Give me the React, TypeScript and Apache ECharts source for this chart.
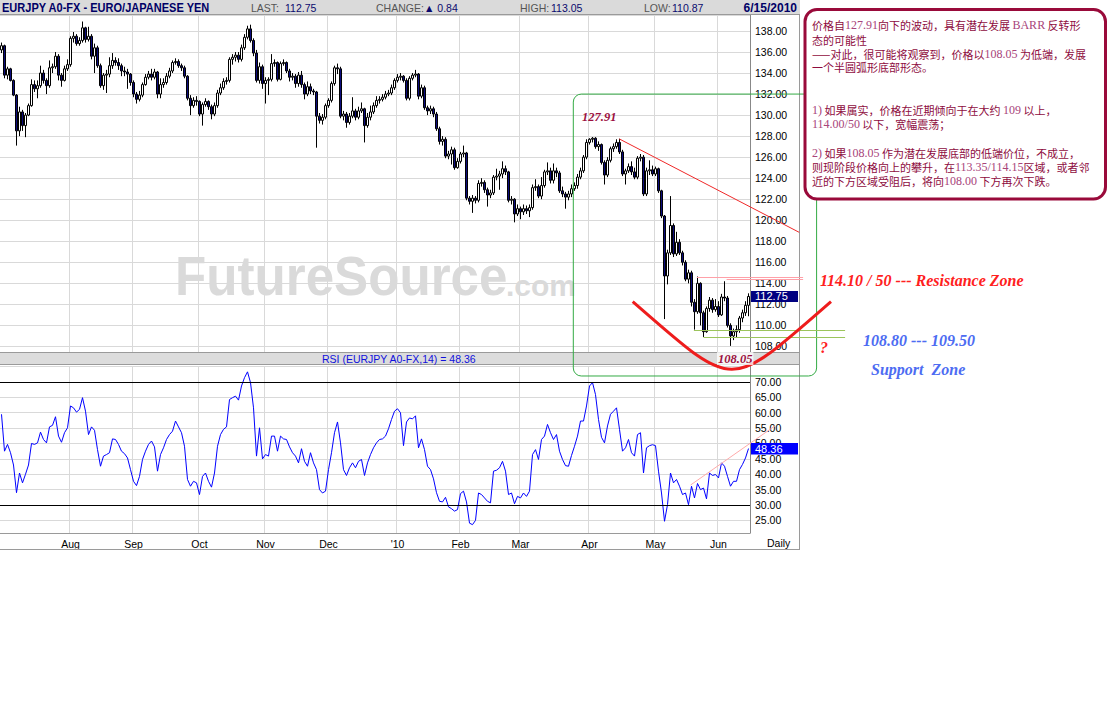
import React, { useEffect, useRef } from "react";
import * as echarts from "echarts";

// ---------- DATA ----------
const TITLE = "EURJPY A0-FX - EURO/JAPANESE YEN";
const headerStats = [
  { label: "LAST:", value: "112.75" },
  { label: "CHANGE:", value: "\u25B2 0.84" },
  { label: "HIGH:", value: "113.05" },
  { label: "LOW:", value: "110.87" },
];
const headerDate = "6/15/2010";
const rsiTitle = "RSI (EURJPY A0-FX,14) = 48.36";
const lastClose = 112.75;
const lastRsi = 48.36;
const monthNames = ["Jan", "Feb", "Mar", "Apr", "May", "Jun", "Jul", "Aug", "Sep", "Oct", "Nov", "Dec"];

// candles: [open, close, low, high]
const jul09 = [
  [136.2, 136.6, 135.9, 136.9], [136.6, 133.8, 133.5, 136.7], [133.8, 134.4, 133.4, 134.6], [134.4, 133.3, 133.2, 134.5],
  [133.3, 131.9, 131.8, 133.4], [131.9, 128.5, 127.1, 132.0], [128.5, 130.3, 128.0, 130.8], [130.3, 129.0, 128.5, 130.5],
  [129.0, 130.0, 127.9, 130.2], [130.0, 130.9, 129.9, 131.1], [130.9, 132.9, 130.8, 133.4], [132.9, 132.5, 132.2, 133.3],
  [132.5, 132.8, 131.6, 133.3], [132.8, 134.0, 132.6, 134.7], [134.0, 133.3, 133.0, 134.3], [133.3, 132.8, 132.0, 133.5],
  [132.8, 134.5, 132.6, 135.2], [134.5, 134.6, 134.0, 134.9], [134.6, 135.6, 134.4, 136.0], [135.6, 133.8, 133.3, 135.8],
  [133.8, 133.3, 132.7, 134.0], [133.3, 134.4, 133.2, 134.7], [134.4, 134.8, 134.2, 135.3],
];
const aug09 = [
  [134.8, 137.3, 134.6, 137.5], [137.3, 137.5, 136.9, 137.9], [137.5, 136.8, 136.6, 137.7], [136.8, 137.1, 136.6, 137.4],
  [137.1, 138.3, 136.9, 138.9], [138.3, 137.2, 136.9, 138.4], [137.2, 137.5, 137.0, 138.4], [137.5, 135.6, 135.3, 137.7],
  [135.6, 136.4, 134.0, 136.8], [136.4, 134.7, 134.5, 136.6], [134.7, 132.8, 132.6, 134.9], [132.8, 133.8, 132.4, 134.0],
  [133.8, 133.9, 132.1, 134.3], [133.9, 134.7, 133.6, 135.5], [134.7, 135.2, 134.4, 135.9], [135.2, 135.0, 134.7, 135.5],
  [135.0, 134.7, 134.3, 135.4], [134.7, 134.2, 133.7, 134.9], [134.2, 134.1, 133.7, 134.6], [134.1, 133.9, 132.5, 134.4],
  [133.9, 133.1, 132.8, 134.0],
];
const sep09 = [
  [133.1, 132.0, 131.7, 133.3], [132.0, 131.5, 131.1, 132.2], [131.5, 131.9, 131.3, 132.3], [131.9, 132.9, 131.7, 133.1],
  [132.9, 133.6, 132.8, 133.9], [133.6, 133.9, 133.4, 134.2], [133.9, 133.6, 133.3, 134.4], [133.6, 134.1, 133.4, 134.4],
  [134.1, 132.0, 131.6, 134.2], [132.0, 132.9, 131.6, 133.5], [132.9, 133.1, 132.6, 133.5], [133.1, 133.7, 132.9, 134.0],
  [133.7, 134.2, 133.5, 134.5], [134.2, 135.0, 134.0, 135.2], [135.0, 135.1, 134.8, 135.4], [135.1, 134.7, 134.5, 135.3],
  [134.7, 134.5, 134.2, 134.9], [134.5, 133.7, 133.5, 134.7], [133.7, 131.6, 131.4, 133.8], [131.6, 130.9, 130.0, 131.9],
  [130.9, 131.4, 130.7, 131.7], [131.4, 131.3, 130.9, 131.8],
];
const oct09 = [
  [131.3, 130.1, 129.9, 131.4], [130.1, 131.0, 129.0, 131.2], [131.0, 131.3, 130.8, 131.6], [131.3, 130.8, 130.5, 131.4],
  [130.8, 130.1, 129.6, 131.0], [130.1, 130.9, 129.9, 131.2], [130.9, 132.1, 130.7, 132.4], [132.1, 132.6, 131.9, 133.0],
  [132.6, 133.2, 132.4, 133.5], [133.2, 133.3, 132.9, 133.6], [133.3, 135.3, 133.1, 135.5], [135.3, 135.5, 134.8, 135.8],
  [135.5, 135.7, 135.1, 136.0], [135.7, 135.3, 135.0, 136.0], [135.3, 136.4, 135.1, 136.7], [136.4, 137.4, 136.2, 137.7],
  [137.4, 138.2, 137.2, 138.5], [138.2, 137.1, 136.9, 138.6], [137.1, 135.9, 135.6, 137.3], [135.9, 133.3, 133.1, 136.2],
  [133.3, 134.6, 133.0, 135.0], [134.6, 133.0, 132.5, 134.8],
];
const nov09 = [
  [133.0, 133.3, 131.1, 133.6], [133.3, 133.4, 131.9, 133.6], [133.4, 134.9, 133.2, 135.8], [134.9, 135.0, 134.6, 135.3],
  [135.0, 133.4, 133.2, 135.1], [133.4, 134.9, 133.3, 135.1], [134.9, 135.0, 134.7, 135.3], [135.0, 134.2, 134.0, 135.1],
  [134.2, 133.6, 133.2, 134.4], [133.6, 133.7, 133.3, 134.0], [133.7, 133.0, 132.6, 133.9], [133.0, 133.8, 132.7, 134.1],
  [133.8, 132.9, 132.6, 134.2], [132.9, 132.0, 131.5, 133.1], [132.0, 132.7, 131.8, 133.2], [132.7, 132.3, 132.0, 133.0],
  [132.3, 132.2, 131.9, 132.5], [132.2, 129.9, 126.9, 132.3], [129.9, 129.5, 129.2, 130.2], [129.5, 129.8, 129.1, 130.1],
  [129.8, 130.9, 129.6, 131.1],
];
const dec09 = [
  [130.9, 131.4, 130.7, 131.6], [131.4, 133.0, 131.2, 133.2], [133.0, 134.5, 132.8, 134.7], [134.5, 134.4, 133.9, 134.9],
  [134.4, 129.9, 129.7, 134.6], [129.9, 130.1, 129.5, 130.4], [130.1, 129.3, 128.8, 130.3], [129.3, 129.9, 129.1, 130.2],
  [129.9, 130.4, 129.7, 131.7], [130.4, 129.8, 129.5, 130.6], [129.8, 130.4, 129.6, 130.8], [130.4, 130.6, 130.2, 131.2],
  [130.6, 129.0, 127.4, 130.7], [129.0, 129.8, 128.8, 130.2], [129.8, 130.3, 129.5, 130.9], [130.3, 130.9, 130.1, 131.2],
  [130.9, 131.4, 130.7, 131.8], [131.4, 131.5, 131.1, 131.8], [131.5, 131.7, 131.3, 132.0], [131.7, 132.0, 131.5, 132.3],
  [132.0, 132.1, 131.8, 132.4], [132.1, 132.6, 131.9, 132.9], [132.6, 133.3, 132.4, 133.5],
];
const jan10 = [
  [133.3, 133.6, 133.1, 133.9], [133.6, 133.7, 133.3, 134.0], [133.7, 133.3, 133.1, 133.8], [133.3, 131.6, 131.4, 133.5],
  [131.6, 133.5, 131.4, 133.7], [133.5, 133.8, 133.3, 134.0], [133.8, 133.9, 133.6, 134.3], [133.9, 131.8, 131.5, 134.0],
  [131.8, 132.6, 131.6, 132.9], [132.6, 130.7, 130.5, 132.8], [130.7, 130.4, 130.0, 130.9], [130.4, 130.6, 130.1, 130.9],
  [130.6, 130.1, 129.8, 130.8], [130.1, 128.7, 128.5, 130.3], [128.7, 127.5, 127.2, 128.9], [127.5, 127.7, 127.1, 128.0],
  [127.7, 126.1, 125.9, 127.9], [126.1, 126.3, 125.8, 126.6], [126.3, 126.7, 125.3, 127.0], [126.7, 125.0, 124.8, 126.9],
  [125.0, 125.6, 124.9, 125.9],
];
const feb10 = [
  [125.6, 126.3, 125.4, 126.5], [126.3, 126.4, 126.0, 127.1], [126.4, 122.1, 121.9, 126.5], [122.1, 121.8, 121.5, 122.3],
  [121.8, 122.1, 120.7, 122.4], [122.1, 121.9, 121.6, 122.3], [121.9, 123.5, 121.7, 123.8], [123.5, 123.6, 123.2, 124.0],
  [123.6, 122.9, 122.6, 123.8], [122.9, 122.4, 121.3, 123.1], [122.4, 122.6, 122.1, 122.9], [122.6, 124.1, 122.4, 124.3],
  [124.1, 124.2, 123.8, 124.9], [124.2, 124.4, 122.9, 124.7], [124.4, 124.9, 124.0, 125.6], [124.9, 124.6, 124.3, 125.2],
  [124.6, 121.9, 121.7, 124.7], [121.9, 122.0, 121.5, 122.3], [122.0, 120.6, 119.8, 122.1], [120.6, 121.1, 120.4, 121.5],
];
const mar10 = [
  [121.1, 120.8, 120.1, 121.3], [120.8, 121.1, 120.5, 121.5], [121.1, 120.9, 120.6, 121.4], [120.9, 121.2, 120.3, 121.5],
  [121.2, 123.1, 121.0, 123.4], [123.1, 123.2, 122.8, 123.9], [123.2, 122.3, 122.1, 123.4], [122.3, 123.3, 122.0, 124.1],
  [123.3, 124.6, 123.1, 124.8], [124.6, 124.7, 124.3, 125.5], [124.7, 123.8, 123.5, 125.0], [123.8, 124.7, 123.5, 125.4],
  [124.7, 124.5, 124.1, 125.0], [124.5, 122.8, 122.6, 124.7], [122.8, 122.5, 122.2, 123.2], [122.5, 122.2, 121.1, 122.7],
  [122.2, 122.5, 121.9, 122.8], [122.5, 123.0, 122.2, 123.4], [123.0, 123.3, 122.8, 123.6], [123.3, 124.1, 123.0, 124.4],
  [124.1, 124.7, 123.9, 125.0], [124.7, 126.0, 124.5, 126.2], [126.0, 127.4, 125.8, 127.7],
];
const apr10 = [
  [127.4, 127.7, 127.2, 127.8], [127.7, 127.8, 127.4, 127.91], [127.8, 127.0, 126.8, 127.9], [127.0, 127.2, 126.6, 127.5],
  [127.2, 125.5, 125.3, 127.3], [125.5, 124.3, 123.4, 125.7], [124.3, 125.7, 124.1, 126.0], [125.7, 126.8, 125.5, 127.0],
  [126.8, 127.0, 126.5, 127.3], [127.0, 127.4, 126.8, 127.7], [127.4, 126.5, 126.3, 127.75], [126.5, 124.4, 124.2, 126.7],
  [124.4, 124.7, 123.4, 124.9], [124.7, 125.1, 124.5, 125.4], [125.1, 124.6, 124.3, 125.6], [124.6, 124.1, 123.9, 125.0],
  [124.1, 125.9, 123.9, 126.1], [125.9, 126.0, 125.6, 126.3], [126.0, 122.5, 122.3, 126.2], [122.5, 124.7, 122.3, 125.0],
  [124.7, 124.8, 124.3, 125.7], [124.8, 124.4, 124.2, 125.2],
];
const may10 = [
  [124.4, 124.9, 124.2, 125.1], [124.9, 122.8, 122.6, 125.0], [122.8, 120.4, 120.2, 122.9], [120.4, 114.7, 110.6, 120.5],
  [114.7, 116.9, 113.9, 117.2], [116.9, 119.5, 116.7, 122.3], [119.5, 116.8, 116.5, 119.7], [116.8, 117.9, 116.6, 118.9],
  [117.9, 116.9, 116.7, 118.2], [116.9, 116.0, 115.7, 117.1], [116.0, 114.4, 114.2, 116.2], [114.4, 115.0, 114.0, 115.3],
  [115.0, 112.2, 111.8, 115.2], [112.2, 111.3, 109.6, 112.5], [111.3, 114.0, 111.1, 114.65], [114.0, 111.2, 110.0, 114.1],
  [111.2, 109.4, 108.9, 111.4], [109.4, 111.6, 109.3, 111.8], [111.6, 112.4, 111.3, 112.7], [112.4, 111.5, 111.2, 112.6],
  [111.5, 111.8, 111.3, 112.5],
];
const jun10 = [
  [111.8, 111.0, 110.8, 112.3], [111.0, 112.7, 110.9, 113.0], [112.7, 112.6, 112.3, 114.2], [112.6, 110.0, 109.8, 112.8],
  [110.0, 109.0, 108.05, 110.2], [109.0, 109.4, 108.6, 109.7], [109.4, 109.6, 108.8, 110.0], [109.6, 110.7, 109.3, 110.9],
  [110.7, 111.2, 110.3, 111.5], [111.2, 111.91, 110.9, 112.3], [111.91, 112.75, 110.87, 113.05],
];

// RSI(14) values
const rsiJul09 = [59.5, 47.5, 49.7, 47, 43, 34, 40.4, 37.2, 40, 43, 50, 49.7, 50.2, 53.7, 51.3, 50.2, 55.4, 55.9, 58.7, 52.4, 50.4, 53.5, 55.1];
const rsiAug09 = [62.2, 61.6, 60.2, 61.1, 64.9, 60.5, 52.9, 55.4, 54.3, 48, 42.6, 45.9, 46.4, 47, 51.5, 51.3, 49.7, 47.5, 46.7, 45.3, 41.5];
const rsiSep09 = [37.7, 36.3, 39.3, 44.8, 47.5, 49.7, 50.8, 48.9, 41, 46.4, 48.6, 51.3, 52.9, 54, 57.3, 55.4, 53.5, 49.1, 38.3, 36.1, 37.7, 37.2];
const rsiOct09 = [33.4, 39.3, 40.4, 37.7, 35.8, 40.4, 49.1, 52.9, 54.6, 55.4, 64.3, 64.9, 65.4, 64.1, 68.7, 71.4, 73.3, 69.8, 61.6, 45.9, 55.1, 45];
const rsiNov09 = [46.4, 45.9, 52.4, 52.4, 47.5, 52.4, 51.5, 51.3, 48.9, 47, 45.9, 43.7, 48.3, 44.2, 42.6, 47, 43.7, 41.5, 35, 33.9, 34.5];
const rsiDec09 = [41.5, 47, 53.5, 57, 50.2, 41.5, 39.6, 42.1, 43.7, 42.1, 44.2, 44.8, 39.6, 43.7, 46.4, 48.6, 50.2, 51.3, 51.5, 52.4, 54.8, 57.8, 60.5];
const rsiJan10 = [61.3, 60, 49.3, 57, 58.3, 58, 59, 48.6, 51.5, 48, 42.6, 41.5, 38.5, 34, 31.2, 31, 32.5, 29.4, 28.8, 28, 28.5];
const rsiFeb10 = [33.7, 34.5, 31, 24.1, 23.6, 25, 33.9, 33.4, 32.3, 31.2, 30.7, 41, 41.3, 42.1, 44.2, 41, 33.4, 33.9, 30.4, 32.8];
const rsiMar10 = [32.3, 33.9, 32.8, 34.5, 46.4, 48, 44.8, 51.3, 52.4, 56.2, 53.5, 51.3, 52.9, 47.5, 44.8, 42.8, 42.6, 46.1, 49.1, 52.4, 57.3, 57.3, 62.2];
const rsiApr10 = [68.7, 69.8, 65.9, 57.8, 52, 50.2, 55.7, 59.5, 60.5, 61.6, 54.6, 47.5, 48.6, 51.3, 47, 45.9, 52.9, 53.5, 40.4, 48.6, 49.3, 49.6];
const rsiMay10 = [49.3, 41, 33.9, 24.7, 30.1, 40.4, 37.2, 38.3, 36.1, 33.4, 33.9, 30.1, 36.1, 32.3, 37.0, 35, 35.5, 32, 40.4, 39.6, 39.9];
const rsiJun10 = [38.8, 43.7, 42.6, 39.3, 36.1, 37.7, 37.7, 41.5, 43.2, 45.3, 48.36];

// annotation anchors in data units: [category index, value]
const trendLine = [[205.9, 127.74], [265.9, 118.85]];
const resistanceLines = [
  { from: 231.8, to: 267.2, value: 114.65 },
  { from: 241.7, to: 267.2, value: 114.4 },
];
const supportLines = [
  { from: 230.8, to: 281.2, value: 109.54 },
  { from: 234.0, to: 281.2, value: 108.87 },
];
const arcCurve = { start: [210.4, 112.27], cp1: [245.1, 103.67], cp2: [241.8, 103.67], end: [276.5, 112.27] };
const greenBox = { fromIndex: 190.6, toIndex: 271.7, topPrice: 132.0, bottomRsi: 71.95 };
const rsiTrend = [[229.7, 36.5], [257.8, 55.7]];

const noteLines = [
  "{c|价格自}{n|127.91}{c|向下的波动，具有潜在发展 }{n|BARR}{c| 反转形}",
  "{c|态的可能性}",
  "{c|——对此，很可能将观察到，价格以}{n|108.05}{c| 为低端，发展}",
  "{c|一个半圆弧形底部形态。}",
  "{n|1)}{c| 如果属实，价格在近期倾向于在大约 }{n|109}{c| 以上，}",
  "{n|114.00/50}{c| 以下，宽幅震荡；}",
  "{n|2)}{c| 如果}{n|108.05}{c| 作为潜在发展底部的低端价位，不成立，}",
  "{c|则现阶段价格向上的攀升，在}{n|113.35/114.15}{c|区域，或者邻}",
  "{c|近的下方区域受阻后，将向}{n|108.00}{c| 下方再次下跌。}",
];
const noteLineY = [25, 39.5, 53.5, 67, 110, 124, 153, 167, 181];

// ---------- helpers ----------
const SANS = "'Liberation Sans', Arial, 'DejaVu Sans', sans-serif";
const SERIF = "'Liberation Serif', 'Times New Roman', serif";
const CJK = "'Noto Sans CJK SC', sans-serif";

function tradingDays(): string[] {
  const out: string[] = [];
  const d = new Date(Date.UTC(2009, 6, 1));
  const end = Date.UTC(2010, 5, 15);
  while (d.getTime() <= end) {
    const wd = d.getUTCDay();
    if (wd !== 0 && wd !== 6) out.push(d.toISOString().slice(0, 10));
    d.setUTCDate(d.getUTCDate() + 1);
  }
  return out;
}

const dates = tradingDays();
const candles = [...jul09, ...aug09, ...sep09, ...oct09, ...nov09, ...dec09, ...jan10, ...feb10, ...mar10, ...apr10, ...may10, ...jun10];
const rsi = [...rsiJul09, ...rsiAug09, ...rsiSep09, ...rsiOct09, ...rsiNov09, ...rsiDec09, ...rsiJan10, ...rsiFeb10, ...rsiMar10, ...rsiApr10, ...rsiMay10, ...rsiJun10];

const monthStart = new Set<number>();
dates.forEach((d, i) => {
  if (i > 0 && d.slice(5, 7) !== dates[i - 1].slice(5, 7)) monthStart.add(i);
});
function monthLabel(i: number): string {
  const d = dates[i];
  const m = parseInt(d.slice(5, 7), 10) - 1;
  if (m === 0) return "'" + d.slice(2, 4);
  return monthNames[m];
}

function buildOption() {
  const gridLine = { color: "#d9d9d9", width: 1 };
  const splitX = { show: true, interval: (i: number) => monthStart.has(i), lineStyle: gridLine };
  return {
    animation: false,
    backgroundColor: "#ffffff",
    grid: [
      { left: 0, top: 15, width: 750, height: 337 },
      { left: 0, top: 366, width: 750, height: 167 },
    ],
    xAxis: [
      {
        type: "category", gridIndex: 0, data: dates, boundaryGap: true,
        axisLine: { show: false }, axisTick: { show: false }, axisLabel: { show: false },
        splitLine: splitX,
      },
      {
        type: "category", gridIndex: 1, data: dates, boundaryGap: true,
        axisLine: { show: true, lineStyle: { color: "#9a9a9a" } }, axisTick: { show: false },
        axisLabel: {
          interval: (i: number) => monthStart.has(i),
          formatter: (_v: string, i: number) => monthLabel(i),
          fontFamily: SANS, fontSize: 10.5, color: "#000", margin: 5,
        },
        splitLine: splitX,
      },
    ],
    yAxis: [
      {
        type: "value", gridIndex: 0, position: "right", min: 107.47, max: 139.52,
        minInterval: 2, maxInterval: 2, splitNumber: 16,
        axisLine: { show: true, lineStyle: { color: "#888" } }, axisTick: { show: false },
        axisLabel: {
          fontFamily: SANS, fontSize: 10.5, color: "#000", margin: 5,
          formatter: (v: number) => {
            const r = Math.round(v);
            if (Math.abs(v - r) > 1e-6 || r % 2 !== 0 || r < 108 || r > 138) return "";
            return r.toFixed(2);
          },
        },
        splitLine: { show: true, lineStyle: gridLine },
      },
      {
        type: "value", gridIndex: 1, position: "right", min: 20.89, max: 75.2,
        minInterval: 5, maxInterval: 5, splitNumber: 11,
        axisLine: { show: true, lineStyle: { color: "#888" } }, axisTick: { show: false },
        axisLabel: {
          fontFamily: SANS, fontSize: 10.5, color: "#000", margin: 5,
          formatter: (v: number) => {
            const r = Math.round(v);
            if (Math.abs(v - r) > 1e-6 || r % 5 !== 0 || r < 25 || r > 70) return "";
            return r.toFixed(2);
          },
        },
        splitLine: { show: true, lineStyle: gridLine },
      },
    ],
    series: [
      {
        type: "candlestick", xAxisIndex: 0, yAxisIndex: 0, data: candles, barWidth: 3,
        itemStyle: { color: "#ffffff", color0: "#0c0c7c", borderColor: "#000", borderColor0: "#000", borderWidth: 1 },
      },
      {
        type: "line", xAxisIndex: 1, yAxisIndex: 1, data: rsi, symbol: "none",
        lineStyle: { color: "#0000ff", width: 1 },
        markLine: {
          silent: true, symbol: "none", label: { show: false },
          lineStyle: { color: "#000", width: 1, type: "solid" },
          data: [{ yAxis: 70 }, { yAxis: 30 }],
        },
      },
    ],
  };
}

function txt(x: number, y: number, text: string, font: string, fill: string, extra: any = {}, z = 50) {
  return {
    type: "text", z, silent: true,
    style: { x, y, text, font, fill, textVerticalAlign: "middle", verticalAlign: "middle", ...extra },
  };
}

function buildGraphics(chart: any) {
  const x0 = chart.convertToPixel({ xAxisIndex: 0 }, dates[0]);
  const x1 = chart.convertToPixel({ xAxisIndex: 0 }, dates[dates.length - 1]);
  const xOf = (i: number) => x0 + ((x1 - x0) * i) / (dates.length - 1);
  const pA = chart.convertToPixel({ yAxisIndex: 0 }, 110);
  const pB = chart.convertToPixel({ yAxisIndex: 0 }, 130);
  const yP = (v: number) => pA + ((pB - pA) * (v - 110)) / 20;
  const rA = chart.convertToPixel({ yAxisIndex: 1 }, 30);
  const rB = chart.convertToPixel({ yAxisIndex: 1 }, 70);
  const yR = (v: number) => rA + ((rB - rA) * (v - 30)) / 40;

  const els: any[] = [];
  // watermark
  els.push({
    type: "text", z: 1, silent: true, x: 175, y: 276, scaleX: 0.93,
    style: { x: 0, y: 0, text: "FutureSource", font: `bold 55px ${SANS}`, fill: "#dadada", textVerticalAlign: "middle", verticalAlign: "middle" },
  });
  els.push(txt(506, 285, ".com", `bold 30px ${SANS}`, "#dadada", {}, 1));

  // header bar
  els.push({ type: "rect", z: 40, silent: true, shape: { x: 0, y: 0, width: 800, height: 14 }, style: { fill: "#dadada" } });
  els.push({ type: "line", z: 41, silent: true, shape: { x1: 0, y1: 14.5, x2: 800, y2: 14.5 }, style: { stroke: "#9a9a9a", lineWidth: 1 } });
  els.push({
    type: "text", z: 42, silent: true, x: 2, y: 7.5, scaleX: 0.92,
    style: { x: 0, y: 0, text: TITLE, font: `bold 12px ${SANS}`, fill: "#000066", textVerticalAlign: "middle", verticalAlign: "middle" },
  });
  const statPos = [[251, 285], [376, 424], [520, 551], [644, 672]];
  headerStats.forEach((s, k) => {
    els.push(txt(statPos[k][0], 7.5, s.label, `10.5px ${SANS}`, "#555555", {}, 42));
    els.push(txt(statPos[k][1], 7.5, s.value, `10.5px ${SANS}`, "#0a0a6e", {}, 42));
  });
  els.push(txt(797, 7.5, headerDate, `bold 12px ${SANS}`, "#000066", { textAlign: "right", align: "right" }, 42));

  // RSI title bar
  els.push({ type: "rect", z: 40, silent: true, shape: { x: 0, y: 352, width: 800, height: 12 }, style: { fill: "#dcdcdc" } });
  els.push({ type: "line", z: 41, silent: true, shape: { x1: 0, y1: 352.5, x2: 800, y2: 352.5 }, style: { stroke: "#9a9a9a", lineWidth: 1 } });
  els.push({ type: "line", z: 41, silent: true, shape: { x1: 0, y1: 364.5, x2: 800, y2: 364.5 }, style: { stroke: "#9a9a9a", lineWidth: 1 } });
  els.push(txt(322, 358.5, rsiTitle, `10.5px ${SANS}`, "#1010dd", {}, 42));

  // frame lines
  els.push({ type: "line", z: 41, silent: true, shape: { x1: 799.5, y1: 14, x2: 799.5, y2: 550 }, style: { stroke: "#9a9a9a", lineWidth: 1 } });
  els.push({ type: "line", z: 41, silent: true, shape: { x1: 0, y1: 549.5, x2: 800, y2: 549.5 }, style: { stroke: "#9a9a9a", lineWidth: 1 } });
  els.push(txt(767, 543, "Daily", `10.5px ${SANS}`, "#000", {}, 42));

  // last value markers
  const yc = yP(lastClose);
  els.push({ type: "rect", z: 45, silent: true, shape: { x: 751, y: yc - 5.5, width: 47, height: 11 }, style: { fill: "#000080" } });
  els.push(txt(755, yc, lastClose.toFixed(2), `11px ${SANS}`, "#ffffff", {}, 46));
  const yr = yR(lastRsi);
  els.push({ type: "rect", z: 45, silent: true, shape: { x: 751, y: yr - 5.5, width: 47, height: 11.5 }, style: { fill: "#0000ff" } });
  els.push(txt(755, yr + 0.3, lastRsi.toFixed(2), `11px ${SANS}`, "#ffffff", {}, 46));

  // green analysis box
  els.push({
    type: "rect", z: 60, silent: true,
    shape: { x: xOf(greenBox.fromIndex), y: yP(greenBox.topPrice), width: xOf(greenBox.toIndex) - xOf(greenBox.fromIndex), height: yR(greenBox.bottomRsi) - yP(greenBox.topPrice), r: 8 },
    style: { fill: "none", stroke: "#33aa44", lineWidth: 1 },
  });
  // downtrend line
  els.push({
    type: "line", z: 61, silent: true,
    shape: { x1: xOf(trendLine[0][0]), y1: yP(trendLine[0][1]), x2: xOf(trendLine[1][0]), y2: yP(trendLine[1][1]) },
    style: { stroke: "#f02828", lineWidth: 1 },
  });
  resistanceLines.forEach((l) => {
    els.push({
      type: "line", z: 61, silent: true,
      shape: { x1: xOf(l.from), y1: Math.round(yP(l.value)) + 0.5, x2: xOf(l.to), y2: Math.round(yP(l.value)) + 0.5 },
      style: { stroke: "#ffa0a8", lineWidth: 1 },
    });
  });
  supportLines.forEach((l) => {
    els.push({
      type: "line", z: 61, silent: true,
      shape: { x1: xOf(l.from), y1: Math.round(yP(l.value)) + 0.5, x2: xOf(l.to), y2: Math.round(yP(l.value)) + 0.5 },
      style: { stroke: "#9cc45c", lineWidth: 1 },
    });
  });
  // rounded bottom arc
  els.push({
    type: "bezierCurve", z: 62, silent: true,
    shape: {
      x1: xOf(arcCurve.start[0]), y1: yP(arcCurve.start[1]),
      cpx1: xOf(arcCurve.cp1[0]), cpy1: yP(arcCurve.cp1[1]),
      cpx2: xOf(arcCurve.cp2[0]), cpy2: yP(arcCurve.cp2[1]),
      x2: xOf(arcCurve.end[0]), y2: yP(arcCurve.end[1]),
    },
    style: { stroke: "#ee1c1c", lineWidth: 3, fill: "none" },
  });
  // RSI trend line
  els.push({
    type: "line", z: 61, silent: true,
    shape: { x1: xOf(rsiTrend[0][0]), y1: yR(rsiTrend[0][1]), x2: xOf(rsiTrend[1][0]), y2: yR(rsiTrend[1][1]) },
    style: { stroke: "#ffaaaa", lineWidth: 1 },
  });

  // annotation texts
  els.push(txt(582, 117, "127.91", `italic bold 12.5px ${SERIF}`, "#9c1040", {}, 63));
  els.push(txt(717, 358.5, "108.05", `italic bold 12.5px ${SERIF}`, "#9c1040",
    { backgroundColor: "rgba(255,255,255,0.75)", padding: [0, 1, 0, 1] }, 63));
  els.push(txt(820, 280, "114.10 / 50 --- Resistance Zone", `italic bold 16px ${SERIF}`, "#ff2020", {}, 63));
  els.push(txt(820, 347, "?", `italic bold 16px ${SERIF}`, "#ff2020", {}, 63));
  els.push(txt(863, 340, "108.80 --- 109.50", `italic bold 16px ${SERIF}`, "#4d6cf2", {}, 63));
  els.push(txt(871, 369, "Support  Zone", `italic bold 16px ${SERIF}`, "#4d6cf2", {}, 63));

  // commentary box
  els.push({
    type: "rect", z: 70, silent: true,
    shape: { x: 805, y: 9.5, width: 300.5, height: 189.5, r: 12 },
    style: { fill: "#ffffff", stroke: "#990a3a", lineWidth: 3 },
  });
  noteLines.forEach((line, k) => {
    els.push({
      type: "text", z: 71, silent: true,
      style: {
        x: 812, y: noteLineY[k], text: line, textVerticalAlign: "middle", verticalAlign: "middle",
        rich: {
          c: { fontFamily: CJK, fontSize: 11, lineHeight: 12, fill: "#8e0c3e", color: "#8e0c3e" },
          n: { fontFamily: SERIF, fontSize: 12, lineHeight: 12, fill: "#a8447a", color: "#a8447a" },
        },
      },
    });
  });
  return els;
}

export default function App() {
  const ref = useRef<HTMLDivElement>(null);
  useEffect(() => {
    const el = ref.current;
    if (!el) return;
    const chart = echarts.init(el, undefined, { renderer: "svg" });
    chart.setOption(buildOption() as any);
    chart.setOption({ graphic: { elements: buildGraphics(chart) } } as any);
    return () => chart.dispose();
  }, []);
  return (
    <div
      ref={ref}
      style={{ position: "absolute", left: 0, top: 0, width: 1108, height: 707, background: "#ffffff" }}
    />
  );
}
